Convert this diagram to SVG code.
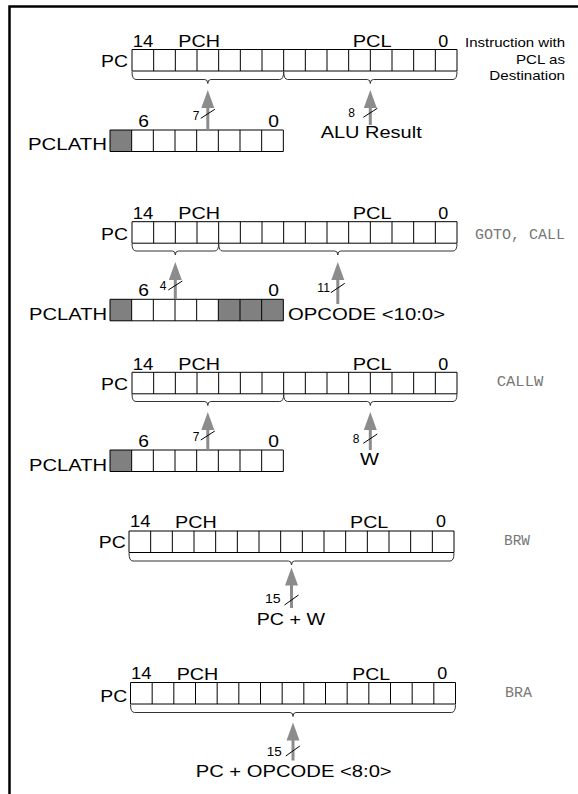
<svg xmlns="http://www.w3.org/2000/svg" xmlns:xlink="http://www.w3.org/1999/xlink" width="578" height="794" viewBox="0 0 578 794">
<style>
.t{font-family:"Liberation Sans",Arial,sans-serif;font-size:17px;fill:#000}
.s{font-family:"Liberation Sans",Arial,sans-serif;font-size:12px;fill:#000}
.r{font-family:"Liberation Sans",Arial,sans-serif;font-size:13.5px;fill:#000}
.m{font-family:"Liberation Mono","Courier New",monospace;font-size:14px;fill:#777}
.cell{fill:none;stroke:#000;stroke-width:1}
.gray{fill:#808080}
.brace{fill:none;stroke:#333;stroke-width:1}
.arrow{fill:#8c8c8c}
.slash{stroke:#000;stroke-width:1}
</style>
<defs>
<path id="reg15" class="cell" d="M0,0H325V21.5H0Z M21.667,0V21.5 M43.333,0V21.5 M65,0V21.5 M86.667,0V21.5 M108.333,0V21.5 M130,0V21.5 M151.667,0V21.5 M173.333,0V21.5 M195,0V21.5 M216.667,0V21.5 M238.333,0V21.5 M260,0V21.5 M281.667,0V21.5 M303.333,0V21.5"/>
<path id="reg8" class="cell" d="M0,0H173.333V21.5H0Z M21.667,0V21.5 M43.333,0V21.5 M65,0V21.5 M86.667,0V21.5 M108.333,0V21.5 M130,0V21.5 M151.667,0V21.5"/>
</defs>
<rect width="578" height="794" fill="#fff"/>
<path d="M9.5,800V6.5H580" fill="none" stroke="#000" stroke-width="2.5"/>

<!-- Section 1 -->
<g id="pc1">
<use xlink:href="#reg15" href="#reg15" x="132" y="49.5"/>
<text class="t" x="132.7" y="46.5" textLength="20.6" lengthAdjust="spacingAndGlyphs">14</text>
<text class="t" x="178.3" y="47" textLength="41.7" lengthAdjust="spacingAndGlyphs">PCH</text>
<text class="t" x="352.7" y="47" textLength="39" lengthAdjust="spacingAndGlyphs">PCL</text>
<text class="t" x="438.3" y="47" textLength="10" lengthAdjust="spacingAndGlyphs">0</text>
<text class="t" x="101" y="66.7" textLength="27" lengthAdjust="spacingAndGlyphs">PC</text>
<path class="brace" d="M132,71.5Q132,79.5 136,79.5H204.8Q207.8,79.5 207.8,83.5Q207.8,79.5 210.8,79.5H279.7Q283.7,79.5 283.7,71.5"/>
<path class="brace" d="M283.7,71.5Q283.7,79.5 287.7,79.5H367.3Q370.3,79.5 370.3,83.5Q370.3,79.5 373.3,79.5H453Q457,79.5 457,71.5"/>
</g>
<g id="pclath1">
<rect class="gray" x="110" y="130" width="21.667" height="21.5"/>
<use xlink:href="#reg8" href="#reg8" x="110" y="130"/>
<text class="t" x="138.3" y="126.7" textLength="10.7" lengthAdjust="spacingAndGlyphs">6</text>
<text class="t" x="268.3" y="126.7" textLength="10.7" lengthAdjust="spacingAndGlyphs">0</text>
<text class="t" x="28" y="150" textLength="79" lengthAdjust="spacingAndGlyphs">PCLATH</text>
</g>
<g id="alu1">
<text class="t" x="320.7" y="138.3" textLength="101" lengthAdjust="spacingAndGlyphs">ALU Result</text>
</g>
<g id="label1">
<text class="r" x="465" y="46.5" textLength="100" lengthAdjust="spacingAndGlyphs">Instruction with</text>
<text class="r" x="516" y="64" textLength="49" lengthAdjust="spacingAndGlyphs">PCL as</text>
<text class="r" x="489.3" y="80" textLength="75.7" lengthAdjust="spacingAndGlyphs">Destination</text>
</g>

<!-- Section 2 -->
<g id="pc2">
<use xlink:href="#reg15" href="#reg15" x="132" y="221.7"/>
<text class="t" x="132.7" y="218.5" textLength="20.6" lengthAdjust="spacingAndGlyphs">14</text>
<text class="t" x="178.3" y="219" textLength="41.7" lengthAdjust="spacingAndGlyphs">PCH</text>
<text class="t" x="352.7" y="219" textLength="39" lengthAdjust="spacingAndGlyphs">PCL</text>
<text class="t" x="438.3" y="219" textLength="10" lengthAdjust="spacingAndGlyphs">0</text>
<text class="t" x="101" y="239.5" textLength="27" lengthAdjust="spacingAndGlyphs">PC</text>
<path class="brace" d="M132,243.5Q132,251 136,251H172.3Q175.3,251 175.3,255Q175.3,251 178.3,251H214.7Q218.7,251 218.7,243.5"/>
<path class="brace" d="M218.7,243.5Q218.7,251 222.7,251H334.8Q337.8,251 337.8,255Q337.8,251 340.8,251H453Q457,251 457,243.5"/>
</g>
<g id="pclath2">
<rect class="gray" x="110" y="299.3" width="21.667" height="21.5"/>
<rect class="gray" x="218.333" y="299.3" width="65" height="21.5"/>
<use xlink:href="#reg8" href="#reg8" x="110" y="299.3"/>
<text class="t" x="138.3" y="295.5" textLength="10.7" lengthAdjust="spacingAndGlyphs">6</text>
<text class="t" x="268.3" y="295.5" textLength="10.7" lengthAdjust="spacingAndGlyphs">0</text>
<text class="t" x="29" y="319.5" textLength="78" lengthAdjust="spacingAndGlyphs">PCLATH</text>
</g>
<g id="opcode2">
<text class="t" x="288" y="320" textLength="157" lengthAdjust="spacingAndGlyphs">OPCODE &lt;10:0&gt;</text>
</g>
<g id="label2">
<text class="m" x="475" y="239" textLength="90" lengthAdjust="spacingAndGlyphs">GOTO, CALL</text>
</g>

<!-- Section 3 -->
<g id="pc3">
<use xlink:href="#reg15" href="#reg15" x="132" y="372.3"/>
<text class="t" x="132.7" y="369.5" textLength="20.6" lengthAdjust="spacingAndGlyphs">14</text>
<text class="t" x="178.3" y="370" textLength="41.7" lengthAdjust="spacingAndGlyphs">PCH</text>
<text class="t" x="352.7" y="370" textLength="39" lengthAdjust="spacingAndGlyphs">PCL</text>
<text class="t" x="438.3" y="370" textLength="10" lengthAdjust="spacingAndGlyphs">0</text>
<text class="t" x="101" y="389.5" textLength="27" lengthAdjust="spacingAndGlyphs">PC</text>
<path class="brace" d="M132,394Q132,401.5 136,401.5H204.8Q207.8,401.5 207.8,405.5Q207.8,401.5 210.8,401.5H279.7Q283.7,401.5 283.7,394"/>
<path class="brace" d="M283.7,394Q283.7,401.5 287.7,401.5H367.3Q370.3,401.5 370.3,405.5Q370.3,401.5 373.3,401.5H453Q457,401.5 457,394"/>
</g>
<g id="pclath3">
<rect class="gray" x="110" y="450" width="21.667" height="21.5"/>
<use xlink:href="#reg8" href="#reg8" x="110" y="450"/>
<text class="t" x="138.3" y="446.5" textLength="10.7" lengthAdjust="spacingAndGlyphs">6</text>
<text class="t" x="268.3" y="446.5" textLength="10.7" lengthAdjust="spacingAndGlyphs">0</text>
<text class="t" x="29" y="470.5" textLength="78" lengthAdjust="spacingAndGlyphs">PCLATH</text>
</g>
<g id="w3">
<text class="t" x="360" y="464.5" textLength="19" lengthAdjust="spacingAndGlyphs">W</text>
</g>
<g id="label3">
<text class="m" x="496.7" y="385.7" textLength="46.7" lengthAdjust="spacingAndGlyphs">CALLW</text>
</g>

<!-- Section 4 -->
<g id="pc4">
<use xlink:href="#reg15" href="#reg15" x="129" y="531"/>
<text class="t" x="130" y="527" textLength="20.6" lengthAdjust="spacingAndGlyphs">14</text>
<text class="t" x="175" y="527.5" textLength="41.7" lengthAdjust="spacingAndGlyphs">PCH</text>
<text class="t" x="350" y="527.5" textLength="38.3" lengthAdjust="spacingAndGlyphs">PCL</text>
<text class="t" x="436" y="527" textLength="10" lengthAdjust="spacingAndGlyphs">0</text>
<text class="t" x="98.7" y="548.3" textLength="27" lengthAdjust="spacingAndGlyphs">PC</text>
<path class="brace" d="M129,553Q129,561 133,561H288.5Q291.5,561 291.5,565Q291.5,561 294.5,561H450Q454,561 454,553"/>
</g>
<g id="pcw4">
<text class="t" x="256.7" y="625" textLength="68.3" lengthAdjust="spacingAndGlyphs">PC + W</text>
</g>
<g id="label4">
<text class="m" x="504" y="545" textLength="26" lengthAdjust="spacingAndGlyphs">BRW</text>
</g>

<!-- Section 5 -->
<g id="pc5">
<use xlink:href="#reg15" href="#reg15" x="130.5" y="682.5"/>
<text class="t" x="131" y="679" textLength="20.6" lengthAdjust="spacingAndGlyphs">14</text>
<text class="t" x="176.7" y="679.5" textLength="41.7" lengthAdjust="spacingAndGlyphs">PCH</text>
<text class="t" x="352.3" y="679.5" textLength="37.7" lengthAdjust="spacingAndGlyphs">PCL</text>
<text class="t" x="437.3" y="679" textLength="10" lengthAdjust="spacingAndGlyphs">0</text>
<text class="t" x="100.3" y="701.7" textLength="27" lengthAdjust="spacingAndGlyphs">PC</text>
<path class="brace" d="M130.5,704.5Q130.5,712.5 134.5,712.5H290Q293,712.5 293,716.5Q293,712.5 296,712.5H451.5Q455.5,712.5 455.5,704.5"/>
</g>
<g id="pcop5">
<text class="t" x="195.7" y="776.7" textLength="196" lengthAdjust="spacingAndGlyphs">PC + OPCODE &lt;8:0&gt;</text>
</g>
<g id="label5">
<text class="m" x="505" y="696.7" textLength="27" lengthAdjust="spacingAndGlyphs">BRA</text>
</g>

<!-- Connectors -->
<g id="connectors">
<path class="arrow" d="M207.8,90L214.3,108L201.3,108Z"/><rect class="arrow" x="206.3" y="106" width="3" height="24"/>
<line class="slash" x1="200.8" y1="118.3" x2="214.8" y2="109.3"/>
<text class="s" x="199.5" y="119.5" text-anchor="end">7</text>
<path class="arrow" d="M370.3,90L376.8,108L363.8,108Z"/><rect class="arrow" x="368.8" y="106" width="3" height="19"/>
<line class="slash" x1="363.3" y1="117.3" x2="377.3" y2="108.3"/>
<text class="s" x="348.3" y="116.5">8</text>
<path class="arrow" d="M175.3,262L181.8,280L168.8,280Z"/><rect class="arrow" x="173.8" y="278" width="3" height="21.3"/>
<line class="slash" x1="168.3" y1="290" x2="182.3" y2="281"/>
<text class="s" x="166.5" y="290" text-anchor="end">4</text>
<path class="arrow" d="M337.8,262L344.3,280L331.3,280Z"/><rect class="arrow" x="336.3" y="278" width="3" height="26"/>
<line class="slash" x1="330.8" y1="292.7" x2="344.8" y2="283.3"/>
<text class="s" x="317.3" y="292.3" textLength="12.7" lengthAdjust="spacingAndGlyphs">11</text>
<path class="arrow" d="M207.8,412L214.3,430L201.3,430Z"/><rect class="arrow" x="206.3" y="428" width="3" height="22"/>
<line class="slash" x1="200.8" y1="440" x2="214.8" y2="431"/>
<text class="s" x="199.5" y="440.5" text-anchor="end">7</text>
<path class="arrow" d="M370.3,412L376.8,430L363.8,430Z"/><rect class="arrow" x="368.8" y="428" width="3" height="22"/>
<line class="slash" x1="363.3" y1="443.3" x2="377.3" y2="434"/>
<text class="s" x="352.7" y="442.5">8</text>
<path class="arrow" d="M291.5,567.5L298,585.5L285,585.5Z"/><rect class="arrow" x="290" y="583.5" width="3" height="24.5"/>
<line class="slash" x1="284.5" y1="605" x2="298.5" y2="595"/>
<text class="s" x="265" y="603.3" textLength="15.7" lengthAdjust="spacingAndGlyphs">15</text>
<path class="arrow" d="M293,722.5L299.5,740.5L286.5,740.5Z"/><rect class="arrow" x="291.5" y="738.5" width="3" height="22"/>
<line class="slash" x1="285.8" y1="756" x2="299.8" y2="746"/>
<text class="s" x="266.7" y="756" textLength="15" lengthAdjust="spacingAndGlyphs">15</text>
</g>
</svg>
